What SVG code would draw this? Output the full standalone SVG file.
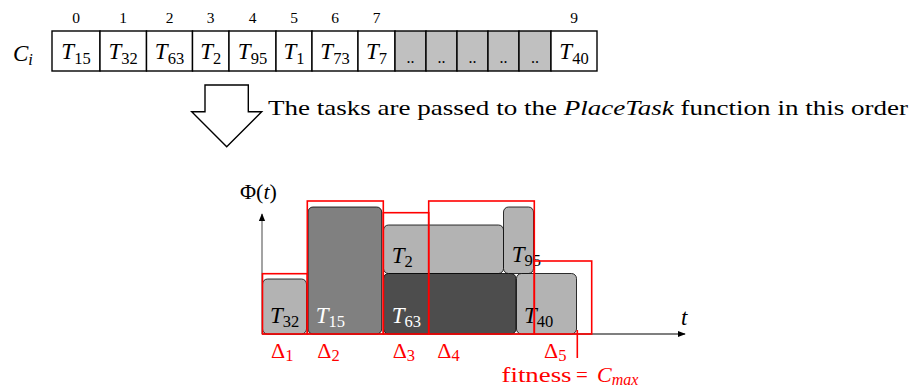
<svg xmlns="http://www.w3.org/2000/svg" width="911" height="390" viewBox="0 0 911 390" font-family="Liberation Serif, serif">
<style>
text{fill:#000}
.m{font-style:italic;font-size:23px}
.sub{font-style:normal;font-size:16.5px}
.idx{font-size:15.5px;text-anchor:middle}
.cell{fill:#fff;stroke:#000;stroke-width:1.4}
.gcell{fill:#c0c0c0;stroke:#000;stroke-width:1.4}
.ct{text-anchor:middle}
.lg{fill:#b3b3b3;stroke:#000;stroke-width:0.8}
.red{fill:none;stroke:#f00;stroke-width:1.6}
.rt{fill:#f00}
.w{fill:#fff}
.up{font-style:normal}
.it{font-style:italic}
</style>
<defs>
<marker id="ah" viewBox="0 0 10 10" refX="9" refY="5" markerWidth="8" markerHeight="8" markerUnits="userSpaceOnUse" orient="auto">
<path d="M0,1 L10,5 L0,9 z" fill="#000"/>
</marker>
</defs>

<g id="chromosome">
<text class="m" x="13" y="61">C<tspan class="sub it" dy="4">i</tspan></text>
<g id="indices">
<text class="idx" x="76" y="23">0</text>
<text class="idx" x="123" y="23">1</text>
<text class="idx" x="169.5" y="23">2</text>
<text class="idx" x="210.7" y="23">3</text>
<text class="idx" x="252.5" y="23">4</text>
<text class="idx" x="294" y="23">5</text>
<text class="idx" x="335" y="23">6</text>
<text class="idx" x="376.5" y="23">7</text>
<text class="idx" x="574" y="23">9</text>
</g>
<g id="cell0"><rect class="cell" x="52" y="31" width="48" height="40"/><text class="m ct" x="76" y="59">T<tspan class="sub" dy="5">15</tspan></text></g>
<g id="cell1"><rect class="cell" x="100" y="31" width="46.5" height="40"/><text class="m ct" x="123.2" y="59">T<tspan class="sub" dy="5">32</tspan></text></g>
<g id="cell2"><rect class="cell" x="146.5" y="31" width="46" height="40"/><text class="m ct" x="169.5" y="59">T<tspan class="sub" dy="5">63</tspan></text></g>
<g id="cell3"><rect class="cell" x="192.5" y="31" width="36.5" height="40"/><text class="m ct" x="210.7" y="59">T<tspan class="sub" dy="5">2</tspan></text></g>
<g id="cell4"><rect class="cell" x="229" y="31" width="47" height="40"/><text class="m ct" x="252.5" y="59">T<tspan class="sub" dy="5">95</tspan></text></g>
<g id="cell5"><rect class="cell" x="276" y="31" width="36" height="40"/><text class="m ct" x="294" y="59">T<tspan class="sub" dy="5">1</tspan></text></g>
<g id="cell6"><rect class="cell" x="312" y="31" width="46" height="40"/><text class="m ct" x="335" y="59">T<tspan class="sub" dy="5">73</tspan></text></g>
<g id="cell7"><rect class="cell" x="358" y="31" width="37" height="40"/><text class="m ct" x="376.5" y="59">T<tspan class="sub" dy="5">7</tspan></text></g>
<g id="cell8"><rect class="gcell" x="395" y="31" width="31" height="40"/><text class="ct" x="410.5" y="63" font-size="16">..</text></g>
<g id="cell9"><rect class="gcell" x="426" y="31" width="31" height="40"/><text class="ct" x="441.5" y="63" font-size="16">..</text></g>
<g id="cell10"><rect class="gcell" x="457" y="31" width="31" height="40"/><text class="ct" x="472.5" y="63" font-size="16">..</text></g>
<g id="cell11"><rect class="gcell" x="488" y="31" width="31" height="40"/><text class="ct" x="503.5" y="63" font-size="16">..</text></g>
<g id="cell12"><rect class="gcell" x="519" y="31" width="32" height="40"/><text class="ct" x="535" y="63" font-size="16">..</text></g>
<g id="cell13"><rect class="cell" x="551" y="31" width="46" height="40"/><text class="m ct" x="574" y="59">T<tspan class="sub" dy="5">40</tspan></text></g>
</g>

<g id="order-arrow">
<path d="M205,85 H248.3 V111.7 H261.7 L226.7,146.7 L191.7,111.7 H205 Z" fill="#fff" stroke="#000" stroke-width="1.4"/>
<text x="268" y="115" font-size="21" textLength="640" lengthAdjust="spacingAndGlyphs">The tasks are passed to the <tspan class="it">PlaceTask</tspan> function in this order</text>
</g>

<g id="connectors">
<line x1="262" y1="334" x2="262" y2="214" stroke="#666" stroke-width="1.2" marker-end="url(#ah)"/>
<line x1="262" y1="334" x2="685" y2="334" stroke="#000" stroke-width="1.2" marker-end="url(#ah)"/>
</g>
<text x="240" y="199" font-size="22">Φ(<tspan class="it">t</tspan>)</text>
<text class="m" x="681" y="325">t</text>

<g id="T32"><rect class="lg" x="262.5" y="279" width="44" height="55" rx="5"/><text class="m" x="270" y="323">T<tspan class="sub" dy="4">32</tspan></text></g>
<g id="T15"><rect x="308" y="207" width="73.7" height="127" rx="5" fill="#808080" stroke="#000" stroke-width="0.8"/><text class="m w" x="315.7" y="323">T<tspan class="sub w" dy="4">15</tspan></text></g>
<g id="T2"><rect class="lg" x="383.5" y="225" width="120" height="48.5" rx="5"/><text class="m" x="391.7" y="263">T<tspan class="sub" dy="4">2</tspan></text></g>
<g id="T63"><rect x="383.5" y="273.5" width="132.5" height="60.5" rx="5" fill="#4d4d4d" stroke="#000" stroke-width="0.8"/><text class="m w" x="391.7" y="323">T<tspan class="sub w" dy="4">63</tspan></text></g>
<g id="T95"><rect class="lg" x="503.5" y="207" width="30" height="66.5" rx="5"/><text class="m" x="511.7" y="262">T<tspan class="sub" dy="4">95</tspan></text></g>
<g id="T40"><rect class="lg" x="516.5" y="273.5" width="60" height="60.5" rx="5"/><text class="m" x="524" y="323">T<tspan class="sub" dy="4">40</tspan></text></g>

<g id="deltas">
<rect class="red" x="262.5" y="273.7" width="44.8" height="60.3"/>
<rect class="red" x="307.3" y="201" width="76" height="133"/>
<rect class="red" x="383.3" y="212.7" width="45.4" height="121.3"/>
<rect class="red" x="428.7" y="201" width="105.6" height="133"/>
<rect class="red" x="534.3" y="261" width="57.4" height="73"/>
<line x1="577.3" y1="330" x2="577.3" y2="358" stroke="#f00" stroke-width="1.6"/>
<text class="rt" x="271" y="358" font-size="22">Δ<tspan class="sub rt" dy="3">1</tspan></text>
<text class="rt" x="317.3" y="358" font-size="22">Δ<tspan class="sub rt" dy="3">2</tspan></text>
<text class="rt" x="392.7" y="358" font-size="22">Δ<tspan class="sub rt" dy="3">3</tspan></text>
<text class="rt" x="437.3" y="358" font-size="22">Δ<tspan class="sub rt" dy="3">4</tspan></text>
<text class="rt" x="544" y="358" font-size="22">Δ<tspan class="sub rt" dy="3">5</tspan></text>
<text class="rt" x="501.5" y="381.7" font-size="21" textLength="70" lengthAdjust="spacingAndGlyphs">fitness</text>
<text class="rt" x="576" y="381.7" font-size="21">=</text>
<text class="rt it" x="597" y="381.7" font-size="22">C<tspan class="rt" font-size="16" dy="3">max</tspan></text>
</g>
</svg>
